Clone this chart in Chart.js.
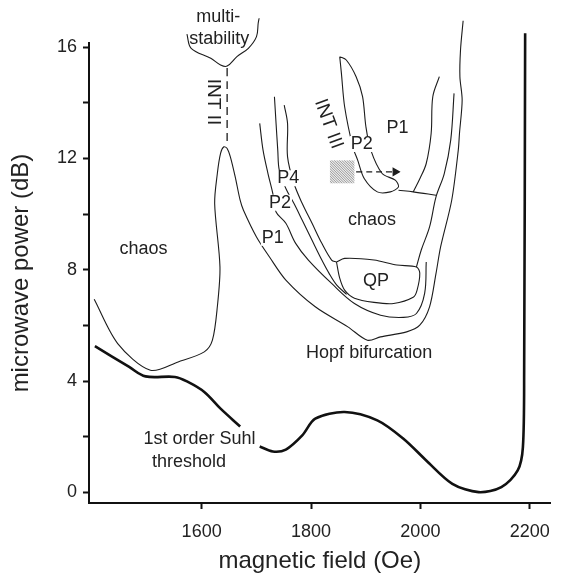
<!DOCTYPE html>
<html>
<head>
<meta charset="utf-8">
<style>
  html, body { margin: 0; padding: 0; background: #fff; }
  canvas { display: block; }
</style>
<script src="https://cdn.jsdelivr.net/npm/chart.js@4.4.0/dist/chart.umd.min.js"></script>
</head>
<body>
<canvas id="js--chart" width="562" height="578"></canvas>
<script>
// axis ranges (Oe / dB)
const xMin = 1394, xMax = 2238;
const yMin = -0.38, yMax = 16.15;
const xTickValues = [1600, 1800, 2000, 2200];
const yTickValues = [0, 2, 4, 6, 8, 10, 12, 14, 16];

// 1st order Suhl threshold (thick line, broken where the label sits)
const suhlLeftX = [1404.8, 1467.5, 1497.4, 1551.1, 1574.9, 1604.8, 1634.6, 1670.4];
const suhlLeftY = [5.26, 4.51, 4.17, 4.15, 3.97, 3.61, 3.01, 2.37];
const suhlRightX = [1706.2, 1730.2, 1754, 1784, 1807.8, 1861.5, 1921.2, 1969, 2010.7, 2058.5, 2106.4, 2148.1, 2178, 2187.5, 2189.8, 2191.6];
const suhlRightY = [1.65, 1.47, 1.54, 2.05, 2.65, 2.89, 2.59, 1.93, 1.15, 0.31, 0.01, 0.19, 0.79, 1.63, 4.39, 16.5];

// chaos boundary: left pocket, INT II peak, Hopf bifurcation line
const chaosX = [1403.5, 1446.5, 1506.3, 1557, 1604.8, 1619.7, 1628.7, 1633.5, 1623.8, 1628.7, 1634.6, 1640.7, 1646.6, 1652.5, 1661.4, 1670.4, 1676.5, 1700.3, 1724.1, 1754, 1807.8, 1867.4, 1903.2, 1927.2, 1974.9, 1998.9, 2016.8, 2028.6, 2037, 2057.3, 2069.3, 2071.5, 2076.4, 2072.3, 2073.4, 2078.2];
const chaosY = [6.94, 5.35, 4.39, 4.69, 5.05, 5.47, 6.67, 8.10, 10.38, 11.46, 12.18, 12.42, 12.36, 12.06, 11.34, 10.50, 10.14, 9.18, 8.46, 7.63, 6.67, 5.95, 5.47, 5.59, 5.77, 6.01, 6.67, 7.87, 8.82, 10.50, 12.30, 12.90, 14.10, 14.94, 15.90, 16.95];

// P1 / P2 boundary
const p1EdgeX = [1706.2, 1712.3, 1721.3, 1730.2, 1736.1, 1754, 1771.9, 1795.2, 1837.7, 1879.4, 1927.2, 1969, 1992.8, 2007.8, 2010.7];
const p1EdgeY = [13.26, 12.30, 11.46, 10.74, 10.08, 9.67, 8.95, 8.35, 7.51, 6.79, 6.37, 6.29, 6.43, 7.15, 8.28];

// P2 / P4 boundary
const p2EdgeX = [1733.1, 1736.1, 1739.2, 1742, 1754, 1768.9, 1784, 1801.9, 1819.8, 1832.8, 1847.1, 1865.1];
const p2EdgeY = [14.22, 13.26, 12.30, 11.58, 10.92, 10.38, 9.78, 9.06, 8.35, 7.88, 7.45, 7.12];

// P4 / chaos boundary (left and right branch)
const p4LeftX = [1751, 1757.1, 1757.1, 1768.9, 1784, 1801.9, 1819.8, 1837.7, 1846.6];
const p4LeftY = [13.92, 13.26, 12.06, 11.10, 10.38, 9.67, 8.95, 8.35, 8.28];
const p4RightX = [1992.8, 2001.6, 2016.8, 2028.6, 2043.7, 2055.5, 2061.6];
const p4RightY = [8.10, 8.71, 9.54, 10.62, 11.46, 12.66, 14.34];

// QP island
const qpX = [1846.6, 1861.5, 1915.2, 1957, 1992.8, 1998.9, 1994, 1986.9, 1951.1, 1915.2, 1879.4, 1861.5, 1852.5, 1846.6];
const qpY = [8.28, 8.41, 8.35, 8.17, 8.10, 7.88, 7.27, 7.01, 6.79, 6.83, 6.98, 7.27, 7.70, 8.28];

// INT III pocket (P2)
const pocketX = [1852.5, 1864.5, 1882.5, 1894.3, 1900.4, 1909.3, 1930.1, 1954.1, 1960, 1945.1, 1921.2, 1897.3, 1885.3, 1876.4, 1861.5, 1855.6, 1852.5];
const pocketY = [15.66, 15.54, 14.94, 14.22, 13.14, 12.30, 11.46, 11.22, 10.98, 10.80, 10.80, 11.28, 11.94, 12.42, 13.86, 15.06, 15.66];

// shelf under the chaos / P1 region and the P1 right edge
const shelfX = [1960, 1986.9, 2028.6];
const shelfY = [10.86, 10.80, 10.68];
const p1RightX = [2034.7, 2022.7, 2019.7, 2010.7, 1999.4, 1986.9];
const p1RightY = [14.94, 14.22, 12.90, 11.82, 11.29, 10.80];

// multistability cap
const multiX = [1573.1, 1580.8, 1616.7, 1634.6, 1646.6, 1664.5, 1685.4, 1700.3, 1703.4, 1705.1];
const multiY = [16.47, 15.96, 15.60, 15.36, 15.32, 15.66, 15.96, 16.38, 16.86, 17.04];

// INT II dashed line, arrow, hatched box
const int2X = [1646.6, 1646.6];
const int2Y = [15.25, 12.5];
const arrowX = [1882.5, 1954];
const arrowY = [11.52, 11.52];
const hatchX = [1834.6, 1879.4];
const hatchY = [11.1, 11.94];

// text labels (centre in data units, angle in degrees)
const labelText = ["multi-", "stability", "INT II", "INT III", "P1", "P2", "P4", "P2", "P1", "chaos", "QP", "Hopf bifurcation", "chaos", "1st order Suhl", "threshold"];
const labelX = [1630.4, 1632.2, 1620.6, 1832, 1958.2, 1892.8, 1758.5, 1743.3, 1730.2, 1911.6, 1918.8, 1906.3, 1493.8, 1596, 1576.7];
const labelY = [17.09, 16.29, 14.03, 13.24, 13.09, 12.52, 11.29, 10.41, 9.15, 9.78, 7.59, 5.0, 8.74, 1.91, 1.10];
const labelAngle = [0, 0, 90, 70, 0, 0, 0, 0, 0, 0, 0, 0, 0, 0, 0];

const ink = "#1c1c1c";
const fontName = '"Liberation Sans", Arial, sans-serif';

function pts(xs, ys) {
  return xs.map((v, i) => ({ x: v, y: ys[i] }));
}

function curve(xs, ys, extra) {
  return Object.assign({
    data: pts(xs, ys),
    showLine: true,
    borderColor: ink,
    borderWidth: 1.1,
    pointRadius: 0,
    tension: 0.35,
    fill: false,
    clip: false,
  }, extra || {});
}

const annotations = {
  id: "annotations",
  afterDatasetsDraw(chart) {
    const { ctx, scales: { x, y } } = chart;

    // hatched square
    const hx0 = x.getPixelForValue(hatchX[0]), hx1 = x.getPixelForValue(hatchX[1]);
    const hy0 = y.getPixelForValue(hatchY[1]), hy1 = y.getPixelForValue(hatchY[0]);
    const h = hy1 - hy0;
    ctx.save();
    ctx.beginPath();
    ctx.rect(hx0, hy0, hx1 - hx0, h);
    ctx.clip();
    ctx.fillStyle = "#ececec";
    ctx.fillRect(hx0, hy0, hx1 - hx0, h);
    ctx.strokeStyle = "#9a9a9a";
    ctx.lineWidth = 1;
    ctx.beginPath();
    for (let k = -h; k < hx1 - hx0 + h; k += 2.5) {
      ctx.moveTo(hx0 + k, hy0);
      ctx.lineTo(hx0 + k + h, hy1);
    }
    ctx.stroke();
    ctx.restore();

    // labels
    labelText.forEach((t, i) => {
      ctx.save();
      ctx.translate(x.getPixelForValue(labelX[i]), y.getPixelForValue(labelY[i]));
      ctx.rotate(labelAngle[i] * Math.PI / 180);
      ctx.font = (t.indexOf("INT") === 0 ? "19px " : "18px ") + fontName;
      ctx.textAlign = "center";
      ctx.textBaseline = "middle";
      if (t[0] === "P") {
        const w = ctx.measureText(t).width;
        ctx.fillStyle = "#fff";
        ctx.fillRect(-w / 2 - 1, -8, w + 2, 16);
      }
      ctx.fillStyle = "#222";
      ctx.fillText(t, 0, 0);
      ctx.restore();
    });
  }
};

const datasets = [
  curve(suhlLeftX, suhlLeftY, { borderWidth: 2.6, borderColor: "#111" }),
  curve(suhlRightX, suhlRightY, { borderWidth: 2.6, borderColor: "#111", tension: 0.3 }),
  curve(chaosX, chaosY, { tension: 0.3 }),
  curve(p1EdgeX, p1EdgeY),
  curve(p2EdgeX, p2EdgeY),
  curve(p4LeftX, p4LeftY),
  curve(p4RightX, p4RightY),
  curve(qpX, qpY, { tension: 0.3 }),
  curve(pocketX, pocketY, { tension: 0.3 }),
  curve(shelfX, shelfY),
  curve(p1RightX, p1RightY),
  curve(multiX, multiY),
  curve(int2X, int2Y, { borderDash: [8, 5], borderWidth: 1.3 }),
  curve(arrowX, arrowY, {
    borderDash: [6, 4],
    borderWidth: 1.3,
    pointRadius: [0, 4],
    pointStyle: "triangle",
    rotation: 90,
    pointBackgroundColor: ink,
    pointBorderColor: ink,
  }),
];

const config = {
  type: "scatter",
  data: { datasets: datasets },
  options: {
    responsive: false,
    animation: false,
    devicePixelRatio: 1,
    layout: { padding: { top: 43, right: 2, bottom: 0, left: 0 } },
    plugins: { legend: { display: false }, tooltip: { enabled: false } },
    scales: {
      x: {
        type: "linear",
        min: xMin,
        max: xMax,
        afterFit: (s) => { s.height = 75; },
        afterBuildTicks: (s) => { s.ticks = xTickValues.map((v) => ({ value: v })); },
        border: { display: true, color: "#111", width: 2 },
        grid: { drawOnChartArea: false, drawTicks: true, tickLength: 6, tickColor: "#111", tickWidth: 2 },
        ticks: {
          autoSkip: false,
          maxRotation: 0,
          padding: 12,
          color: "#222",
          font: { family: fontName, size: 18 },
          callback: (v) => String(v),
        },
        title: {
          display: true,
          text: "magnetic field (Oe)",
          color: "#222",
          font: { family: fontName, size: 24 },
          padding: { top: 0, bottom: 2 },
        },
      },
      y: {
        type: "linear",
        min: yMin,
        max: yMax,
        afterFit: (s) => { s.width = 89; },
        afterBuildTicks: (s) => { s.ticks = yTickValues.map((v) => ({ value: v })); },
        border: { display: true, color: "#111", width: 2 },
        grid: { drawOnChartArea: false, drawTicks: true, tickLength: 6, tickColor: "#111", tickWidth: 2 },
        ticks: {
          autoSkip: false,
          padding: 6,
          color: "#222",
          font: { family: fontName, size: 18 },
          callback: (v) => (v % 4 === 0 ? String(v) : ""),
        },
        title: {
          display: true,
          text: "microwave power (dB)",
          color: "#222",
          font: { family: fontName, size: 24 },
          padding: { top: 7, bottom: 0 },
        },
      },
    },
  },
  plugins: [annotations],
};

new Chart(document.getElementById("js--chart"), config);
</script>
</body>
</html>
